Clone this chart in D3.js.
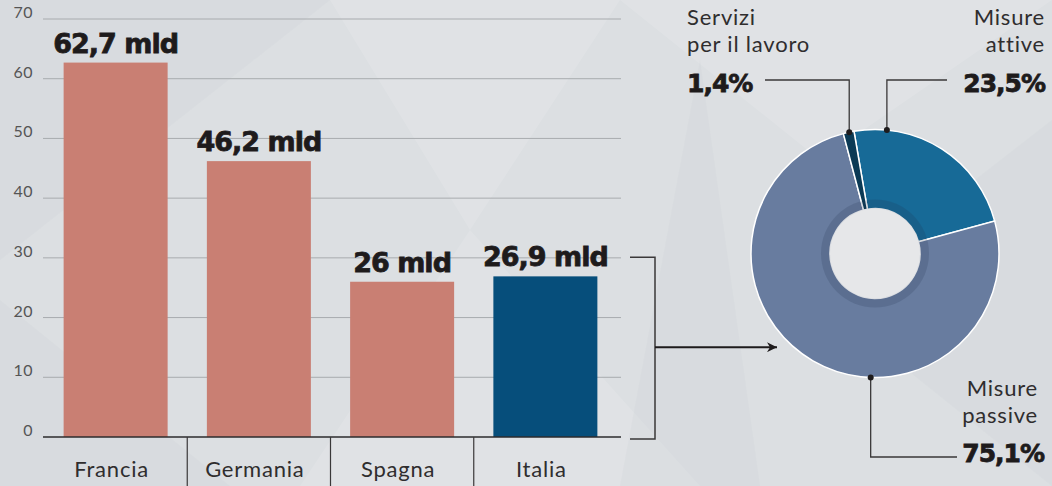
<!DOCTYPE html>
<html>
<head>
<meta charset="utf-8">
<script src="https://cdn.jsdelivr.net/npm/d3@7"></script>
<style>
  body { margin: 0; background: #dcdfe2; }
  svg { display: block; }
</style>
</head>
<body>
<div id="chart"></div>
<script>
// data
let countries = ["Francia", "Germania", "Spagna", "Italia"];
let spending = [62.7, 46.2, 26, 26.9];
let spendingLabels = ["62,7 mld", "46,2 mld", "26 mld", "26,9 mld"];
let yTicks = [0, 10, 20, 30, 40, 50, 60, 70];

let segments = ["Misure attive", "Misure passive", "Servizi per il lavoro"];
let shares = [23.5, 75.1, 1.4];
let shareLabels = ["23,5%", "75,1%", "1,4%"];

let svgWidth = 1052;
let svgHeight = 486;

let bigFont = "'DejaVu Sans', sans-serif";
let textFont = "Lato, sans-serif";

let svg = d3.select("#chart")
  .append("svg")
  .attr("width", svgWidth)
  .attr("height", svgHeight);

// faint background facets
svg.append("rect").attr("width", svgWidth).attr("height", svgHeight).attr("fill", "#dcdfe2");
let facets = [
  [[0, 0], [330, 0], [0, 260]],
  [[330, 0], [620, 0], [470, 230]],
  [[0, 300], [230, 486], [0, 486]],
  [[620, 0], [1052, 0], [820, 160]],
  [[1052, 120], [1052, 486], [820, 300]],
  [[470, 230], [700, 486], [300, 486]],
  [[700, 60], [760, 486], [620, 486]]
];
svg.append("g")
  .selectAll("polygon")
  .data(facets)
  .enter()
  .append("polygon")
  .attr("points", d => d.map(p => p.join(",")).join(" "))
  .attr("fill", (d, i) => i % 2 ? "#ffffff" : "#c9ccd0")
  .attr("opacity", (d, i) => i % 2 ? 0.12 : 0.18);

// ---- bar chart ----
let x = d3.scaleBand()
  .domain(countries)
  .range([44, 617])
  .paddingInner(0.274)
  .paddingOuter(0.137);

let y = d3.scaleLinear()
  .domain([0, 70])
  .range([437, 19]);

let grid = svg.append("g");
grid.selectAll("line")
  .data(yTicks.filter(d => d > 0))
  .enter()
  .append("line")
  .attr("x1", 43)
  .attr("x2", 621)
  .attr("y1", d => y(d))
  .attr("y2", d => y(d))
  .attr("stroke", "#a8abae")
  .attr("stroke-width", 1);

grid.selectAll("text")
  .data(yTicks)
  .enter()
  .append("text")
  .attr("x", 33)
  .attr("y", d => y(d) - 1)
  .attr("text-anchor", "end")
  .attr("font-family", textFont)
  .attr("font-size", 16)
  .attr("letter-spacing", 0.5)
  .attr("fill", "#555")
  .text(d => d);

let barData = countries.map((c, i) => ({ c: c, v: spending[i], label: spendingLabels[i] }));

svg.append("g")
  .selectAll("rect")
  .data(barData)
  .enter()
  .append("rect")
  .attr("x", d => x(d.c))
  .attr("y", d => y(d.v))
  .attr("width", x.bandwidth())
  .attr("height", d => y(0) - y(d.v))
  .attr("fill", d => d.c === "Italia" ? "#064e7b" : "#c97f73");

svg.append("g")
  .selectAll("text")
  .data(barData)
  .enter()
  .append("text")
  .attr("x", d => x(d.c) + x.bandwidth() / 2)
  .attr("y", d => y(d.v) - 10)
  .attr("text-anchor", "middle")
  .attr("font-family", bigFont)
  .attr("font-weight", "bold")
  .attr("font-size", 27)
  .attr("letter-spacing", -1)
  .attr("fill", "#1e1b1c")
  .attr("stroke", "#1e1b1c")
  .attr("stroke-width", 0.8)
  .text(d => d.label);

// baseline and category dividers
svg.append("line")
  .attr("x1", 43).attr("x2", 621)
  .attr("y1", y(0)).attr("y2", y(0))
  .attr("stroke", "#2d2b2c").attr("stroke-width", 1.5);

let step = x.step();
svg.append("g")
  .selectAll("line")
  .data(countries.slice(1))
  .enter()
  .append("line")
  .attr("x1", d => x(d) - (step - x.bandwidth()) / 2)
  .attr("x2", d => x(d) - (step - x.bandwidth()) / 2)
  .attr("y1", y(0))
  .attr("y2", svgHeight)
  .attr("stroke", "#3a3839")
  .attr("stroke-width", 1.2);

svg.append("g")
  .selectAll("text")
  .data(countries)
  .enter()
  .append("text")
  .attr("x", d => x(d) + x.bandwidth() / 2 - 4)
  .attr("y", 477)
  .attr("text-anchor", "middle")
  .attr("font-family", textFont)
  .attr("font-size", 22)
  .attr("letter-spacing", 0.8)
  .attr("fill", "#2f2d2e")
  .text(d => d);

// bracket and arrow towards the donut
let italyTop = y(26.9) - 19;
svg.append("path")
  .attr("d", `M630,${italyTop} H655 V${y(0) + 2} H630`)
  .attr("fill", "none")
  .attr("stroke", "#3a3839")
  .attr("stroke-width", 1.5);

svg.append("defs").append("marker")
  .attr("id", "arrow")
  .attr("viewBox", "0 0 10 10")
  .attr("refX", 10).attr("refY", 5)
  .attr("markerWidth", 10).attr("markerHeight", 10)
  .attr("markerUnits", "userSpaceOnUse")
  .attr("orient", "auto")
  .append("path")
  .attr("d", "M0,0 L10,5 L0,10 L3,5 Z")
  .attr("fill", "#1e1b1c");

let arrowY = (italyTop + y(0)) / 2;
svg.append("line")
  .attr("x1", 655).attr("x2", 777)
  .attr("y1", arrowY).attr("y2", arrowY)
  .attr("stroke", "#1e1b1c")
  .attr("stroke-width", 2)
  .attr("marker-end", "url(#arrow)");

// ---- donut ----
let cx = 875, cy = 253.5;
let outerR = 124, innerR = 45;
let startAngle = -9.75 * Math.PI / 180;

let pie = d3.pie()
  .sort(null)
  .startAngle(startAngle)
  .endAngle(startAngle + 2 * Math.PI)
  .value(d => d.v);

let pieData = pie(segments.map((s, i) => ({ s: s, v: shares[i], label: shareLabels[i] })));
let colors = ["#176a97", "#687c9f", "#0b3a55"];

let arc = d3.arc().innerRadius(innerR).outerRadius(outerR);

let donut = svg.append("g").attr("transform", `translate(${cx},${cy})`);
donut.selectAll("path")
  .data(pieData)
  .enter()
  .append("path")
  .attr("d", arc)
  .attr("fill", (d, i) => colors[i])
  .attr("stroke", "#ffffff")
  .attr("stroke-width", 1.5);

// inner shadow ring and hole
donut.append("circle").attr("r", 54).attr("fill", "#1f3350").attr("opacity", 0.18);
donut.append("circle").attr("r", innerR).attr("fill", "#e6e7e9");

// leader lines
let rad = a => a * Math.PI / 180;
let onRim = a => [cx + outerR * Math.sin(rad(a)), cy - outerR * Math.cos(rad(a))];

let leaders = [
  { i: 0, angle: 5.5, turnY: 80, endX: 947 },
  { i: 1, angle: 182, turnY: 457, endX: 957 },
  { i: 2, angle: -12, turnY: 80, endX: 765 }
];

leaders.forEach(function(l) {
  let p = onRim(l.angle);
  svg.append("path")
    .attr("d", `M${p[0]},${p[1]} V${l.turnY} H${l.endX}`)
    .attr("fill", "none")
    .attr("stroke", "#3a3839")
    .attr("stroke-width", 1.3);
  svg.append("circle")
    .attr("cx", p[0]).attr("cy", p[1]).attr("r", 3)
    .attr("fill", "#1e1b1c");
});

// donut labels
let labelSpec = [
  { i: 2, x: 687, anchor: "start", lines: ["Servizi", "per il lavoro"], y0: 25, py: 92 },
  { i: 0, x: 1045, anchor: "end", lines: ["Misure", "attive"], y0: 25, py: 92 },
  { i: 1, x: 1038, anchor: "end", lines: ["Misure", "passive"], y0: 396, py: 462, px: 1044 }
];

labelSpec.forEach(function(l) {
  let t = svg.append("text")
    .attr("font-family", textFont)
    .attr("font-size", 22)
    .attr("letter-spacing", 0.8)
    .attr("fill", "#2f2d2e")
    .attr("text-anchor", l.anchor);
  l.lines.forEach(function(line, k) {
    t.append("tspan").attr("x", l.x).attr("y", l.y0 + k * 27).text(line);
  });
  svg.append("text")
    .attr("x", l.px || l.x)
    .attr("y", l.py)
    .attr("text-anchor", l.anchor)
    .attr("font-family", bigFont)
    .attr("font-weight", "bold")
    .attr("font-size", 25)
    .attr("letter-spacing", -1)
    .attr("fill", "#1e1b1c")
    .attr("stroke", "#1e1b1c")
    .attr("stroke-width", 0.8)
    .text(pieData[l.i].data.label);
});
</script>
</body>
</html>
